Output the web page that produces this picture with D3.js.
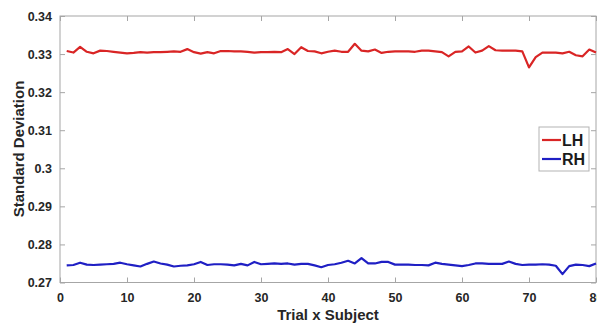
<!DOCTYPE html>
<html>
<head>
<meta charset="utf-8">
<script src="https://cdn.jsdelivr.net/npm/d3@7"></script>
<style>
  body { margin: 0; background: #fff; }
  svg { display: block; font-family: "Liberation Sans", Arial, sans-serif; }
  .axis text { font-size: 12.5px; font-weight: bold; fill: #262626; }
  .axis path, .axis line { stroke: #a6a6a6; }
</style>
</head>
<body>
<svg id="chart"></svg>
<script>
// trial index 1..80
const trials = d3.range(1, 81);

// left hand std dev per trial
const lh = [
  0.3308, 0.3304, 0.3319, 0.3306, 0.3302, 0.3309, 0.3308, 0.3306, 0.3304, 0.3302,
  0.3303, 0.3305, 0.3304, 0.3305, 0.3305, 0.3306, 0.3307, 0.3306, 0.3313, 0.3305,
  0.3301, 0.3305, 0.3302, 0.3308, 0.3308, 0.3307, 0.3307, 0.3306, 0.3304, 0.3305,
  0.3305, 0.3306, 0.3305, 0.3313, 0.3300, 0.3318, 0.3308, 0.3307, 0.3302, 0.3306,
  0.3309, 0.3306, 0.3306, 0.3327, 0.3309, 0.3307, 0.3312, 0.3303, 0.3306, 0.3307,
  0.3307, 0.3307, 0.3306, 0.3309, 0.3309, 0.3307, 0.3305, 0.3294, 0.3306, 0.3307,
  0.3320, 0.3304, 0.3309, 0.3321, 0.3310, 0.3309, 0.3309, 0.3309, 0.3307, 0.3265,
  0.3292, 0.3304, 0.3304, 0.3304, 0.3302, 0.3306, 0.3297, 0.3294, 0.3312, 0.3304
];

// right hand std dev per trial
const rh = [
  0.2745, 0.2746, 0.2752, 0.2747, 0.2746, 0.2747, 0.2748, 0.2749, 0.2752, 0.2748,
  0.2745, 0.2742, 0.2749, 0.2755, 0.2750, 0.2747, 0.2742, 0.2744, 0.2745, 0.2748,
  0.2754, 0.2746, 0.2748, 0.2748, 0.2747, 0.2745, 0.2749, 0.2745, 0.2754, 0.2748,
  0.2749, 0.2750, 0.2749, 0.2750, 0.2747, 0.2749, 0.2749, 0.2745, 0.2740, 0.2746,
  0.2748, 0.2752, 0.2757, 0.2750, 0.2764, 0.2750, 0.2750, 0.2754, 0.2754, 0.2747,
  0.2747, 0.2747, 0.2746, 0.2746, 0.2745, 0.2752, 0.2749, 0.2747, 0.2745, 0.2743,
  0.2746, 0.2750, 0.2750, 0.2749, 0.2749, 0.2749, 0.2755, 0.2749, 0.2746, 0.2747,
  0.2747, 0.2748, 0.2747, 0.2744, 0.2722, 0.2743, 0.2747, 0.2746, 0.2743, 0.2750
];

const xTicks = [0, 10, 20, 30, 40, 50, 60, 70, 80];
const yTicks = [0.27, 0.28, 0.29, 0.3, 0.31, 0.32, 0.33, 0.34];

const series = [
  { name: "LH", values: lh, color: "#d92525" },
  { name: "RH", values: rh, color: "#1f1fc4" }
];

const width = 597, height = 323;
const margin = { top: 16, right: 1, bottom: 40.5, left: 60 };

const svg = d3.select("#chart").attr("width", width).attr("height", height);

const x = d3.scaleLinear().domain([0, 80]).range([margin.left, width - margin.right]);
const y = d3.scaleLinear().domain([0.27, 0.34]).range([height - margin.bottom, margin.top]);

// box
svg.append("rect")
  .attr("x", x(0)).attr("y", y(0.34))
  .attr("width", x(80) - x(0)).attr("height", y(0.27) - y(0.34))
  .attr("fill", "none").attr("stroke", "#a6a6a6");

// axes, ticks pointing inward like matlab
svg.append("g").attr("class", "axis")
  .attr("transform", "translate(0," + y(0.27) + ")")
  .call(d3.axisBottom(x).tickValues(xTicks).tickSize(-5).tickPadding(11).tickSizeOuter(0));

svg.append("g").attr("class", "axis")
  .attr("transform", "translate(0," + y(0.34) + ")")
  .call(d3.axisTop(x).tickValues(xTicks).tickSize(-5).tickFormat("").tickSizeOuter(0));

svg.append("g").attr("class", "axis")
  .attr("transform", "translate(" + x(0) + ",0)")
  .call(d3.axisLeft(y).tickValues(yTicks).tickSize(-5).tickPadding(8).tickSizeOuter(0)
    .tickFormat(d3.format("~g")));

svg.append("g").attr("class", "axis")
  .attr("transform", "translate(" + x(80) + ",0)")
  .call(d3.axisRight(y).tickValues(yTicks).tickSize(-5).tickFormat("").tickSizeOuter(0));

svg.selectAll(".axis .domain").remove();

// lines
const line = d3.line()
  .x((d, i) => x(trials[i]))
  .y(d => y(d));

svg.selectAll(".series")
  .data(series)
  .enter()
  .append("path")
  .attr("class", "series")
  .attr("d", d => line(d.values))
  .attr("fill", "none")
  .attr("stroke", d => d.color)
  .attr("stroke-width", 2.2)
  .attr("stroke-linejoin", "round");

// axis labels
svg.append("text")
  .attr("x", (x(0) + x(80)) / 2)
  .attr("y", 320)
  .attr("text-anchor", "middle")
  .attr("font-size", 15).attr("font-weight", "bold").attr("fill", "#262626")
  .text("Trial x Subject");

svg.append("text")
  .attr("transform", "translate(24,149) rotate(-90)")
  .attr("text-anchor", "middle")
  .attr("font-size", 15).attr("font-weight", "bold").attr("fill", "#262626")
  .text("Standard Deviation");

// legend
const leg = svg.append("g").attr("transform", "translate(539,127)");
leg.append("rect")
  .attr("width", 50).attr("height", 44)
  .attr("fill", "#fff").attr("stroke", "#b3b3b3");

series.forEach(function (s, i) {
  const ly = 13 + i * 19;
  leg.append("line")
    .attr("x1", 3).attr("x2", 22).attr("y1", ly).attr("y2", ly)
    .attr("stroke", s.color).attr("stroke-width", 2.2);
  leg.append("text")
    .attr("x", 23).attr("y", ly + 6)
    .attr("font-size", 16).attr("font-weight", "bold").attr("fill", "#1a1a1a")
    .text(s.name);
});
</script>
</body>
</html>
